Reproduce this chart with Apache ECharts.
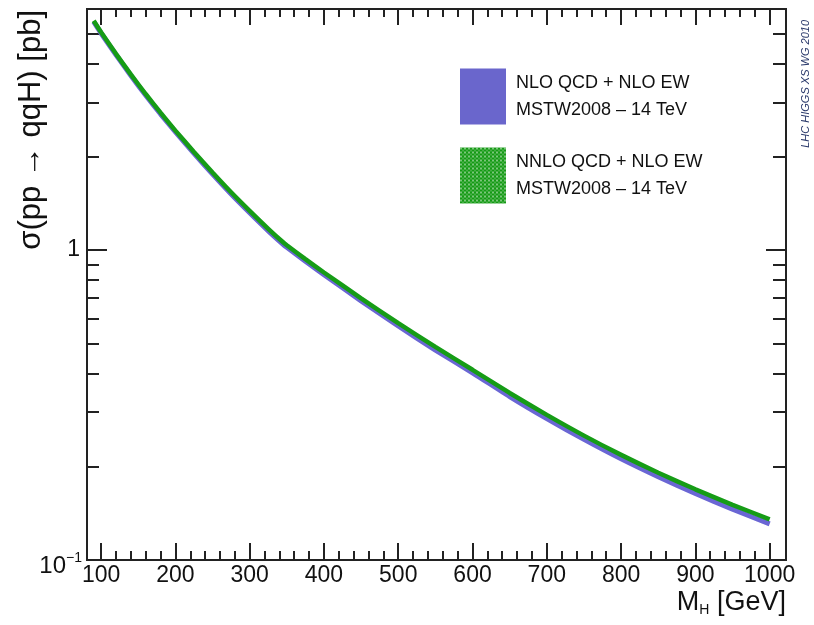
<!DOCTYPE html>
<html><head><meta charset="utf-8">
<script src="https://cdn.jsdelivr.net/npm/echarts@6/dist/echarts.min.js"></script>
<style>html,body{margin:0;padding:0;background:#fff}#c{width:814px;height:625px}</style>
</head><body><div id="c"></div>
<script>
// Higgs mass points (GeV)
const massGeV = [90,100,120,140,160,180,200,225,250,275,300,325,345,350,375,400,450,500,550,600,650,700,750,800,850,900,950,1000];
// NNLO QCD + NLO EW (green band, central), pb
const sigmaNnlo = [5.50,5.05,4.30,3.69,3.19,2.777,2.43,2.074,1.780,1.537,1.339,1.172,1.060,1.037,0.935,0.847,0.699,0.581,0.487,0.411,0.346,0.294,0.252,0.2184,0.1913,0.1691,0.1507,0.1353];
// NLO QCD + NLO EW (blue band, central), pb
const sigmaNlo = [5.46,5.01,4.27,3.66,3.16,2.749,2.406,2.051,1.759,1.517,1.320,1.154,1.044,1.021,0.920,0.833,0.686,0.569,0.476,0.402,0.337,0.286,0.245,0.212,0.1856,0.1639,0.1459,0.1308];
const seriesNames = ['NLO QCD + NLO EW', 'NNLO QCD + NLO EW'];
const pdfLabel = 'MSTW2008 \u2013 14 TeV';
const xMajorTicks = [100,200,300,400,500,600,700,800,900,1000];
const xMinorTicks = [100,120,140,160,180,200,220,240,260,280,300,320,340,360,380,400,420,440,460,480,500,520,540,560,580,600,620,640,660,680,700,720,740,760,780,800,820,840,860,880,900,920,940,960,980,1000];
const yMajorTicks = [1];
const yMinorTicks = [0.2,0.3,0.4,0.5,0.6,0.7,0.8,0.9,2,3,4,5];
const yLabelValues = [0.1, 1];

const FONT = 'Liberation Sans';
const X_MIN = 81, X_MAX = 1022, Y_MIN = 0.1, Y_MAX = 6;
const tickLine = {color:'#222', width:2};

// dotted green pattern
const pc = document.createElement('canvas');
pc.width = 4; pc.height = 4;
const g = pc.getContext('2d');
g.fillStyle = '#149a14'; g.fillRect(0,0,4,4);
g.fillStyle = '#ffffff';
g.beginPath(); g.arc(1,1,0.8,0,Math.PI*2); g.fill();
g.fillStyle = 'rgba(255,255,255,0.6)';
g.beginPath(); g.arc(3,3,0.7,0,Math.PI*2); g.fill();
const greenPattern = {image: pc, repeat: 'repeat'};

function xAx(pos, ticks, len, withLabels) {
  return {
    type:'value', min:X_MIN, max:X_MAX, position:pos,
    axisLine:{show:false}, splitLine:{show:false},
    axisTick:{show:true, inside:true, length:len, customValues:ticks, lineStyle:tickLine},
    axisLabel: withLabels ? {show:true, customValues:xMajorTicks, margin:4, fontSize:23, color:'#111', fontFamily:FONT,
      formatter: v => String(Math.round(v))} : {show:false}
  };
}
function yAx(pos, ticks, len, withLabels) {
  return {
    type:'log', logBase:10, min:Y_MIN, max:Y_MAX, position:pos,
    axisLine:{show:false}, splitLine:{show:false},
    axisTick:{show:true, inside:true, length:len, customValues:ticks, lineStyle:tickLine},
    axisLabel: withLabels ? {
      show:true, customValues:yLabelValues, margin:5, color:'#111', fontFamily:FONT, fontSize:23,
      formatter: v => v < 0.5 ? '{a|10}{b|\u22121}' : '{c|1}',
      rich:{
        a:{fontSize:24, fontFamily:FONT, color:'#111', padding:[12,0,0,0]},
        b:{fontSize:14, fontFamily:FONT, color:'#111', padding:[0,0,4,0]},
        c:{fontSize:23, fontFamily:FONT, color:'#111', padding:[0,2,0,0]}
      }
    } : {show:false}
  };
}

const chart = echarts.init(document.getElementById('c'));
chart.setOption({
  backgroundColor:'#fff',
  animation:false,
  grid:{left:87, top:9, width:699, height:551, show:true, borderColor:'#222', borderWidth:2, backgroundColor:'transparent'},
  xAxis:[
    xAx('bottom', xMajorTicks, 17, true),
    xAx('bottom', xMinorTicks, 9, false),
    xAx('top', xMajorTicks, 16, false),
    xAx('top', xMinorTicks, 8, false)
  ],
  yAxis:[
    yAx('left', yMajorTicks, 20, true),
    yAx('left', yMinorTicks, 12, false),
    yAx('right', yMajorTicks, 20, false),
    yAx('right', yMinorTicks, 13, false)
  ],
  legend:{
    left:460, top:66, padding:0, orient:'vertical', icon:'rect',
    itemWidth:46, itemHeight:56, itemGap:18,
    itemStyle:{borderWidth:0},
    textStyle:{fontSize:18, lineHeight:27, color:'#111', fontFamily:FONT, padding:[7,0,0,5]},
    formatter: n => n + '\n' + pdfLabel,
    data:[
      {name:seriesNames[0], itemStyle:{color:'#6a66cc', borderWidth:0}},
      {name:seriesNames[1], itemStyle:{color:greenPattern, borderWidth:0}}
    ]
  },
  series:[
    {
      name:seriesNames[0], type:'line', xAxisIndex:0, yAxisIndex:0,
      data: massGeV.map((m,i)=>[m, sigmaNlo[i]]),
      showSymbol:false, smooth:0.2, silent:true,
      lineStyle:{color:'#6a66d4', width:5}, itemStyle:{color:'#6a66cc'}
    },
    {
      name:seriesNames[1], type:'line', xAxisIndex:0, yAxisIndex:0,
      data: massGeV.map((m,i)=>[m, sigmaNnlo[i]]),
      showSymbol:false, smooth:0.2, silent:true,
      lineStyle:{color:'#169c16', width:4.5}, itemStyle:{color:'#169c16'}
    }
  ],
  graphic:[
    {type:'text', x:31, y:10, rotation:Math.PI/2,
     style:{text:'\u03c3(pp \u2192 qqH) [pb]', fontSize:31, fontFamily:FONT, fill:'#111', align:'right', verticalAlign:'middle'}},
    {type:'text', x:786, y:603,
     style:{text:'{m|M}{s|H}{m| [GeV]}', align:'right', verticalAlign:'middle', fill:'#111',
       rich:{m:{fontSize:27, fontFamily:FONT, fill:'#111'}, s:{fontSize:14, fontFamily:FONT, fill:'#111', padding:[14,0,0,0]}}}},
    {type:'text', x:806, y:20, rotation:Math.PI/2,
     style:{text:'LHC HIGGS XS WG 2010', fontSize:11, fontFamily:FONT, fontStyle:'italic', fill:'#2b3a6b', align:'right', verticalAlign:'middle'}}
  ]
});
</script>
</body></html>
